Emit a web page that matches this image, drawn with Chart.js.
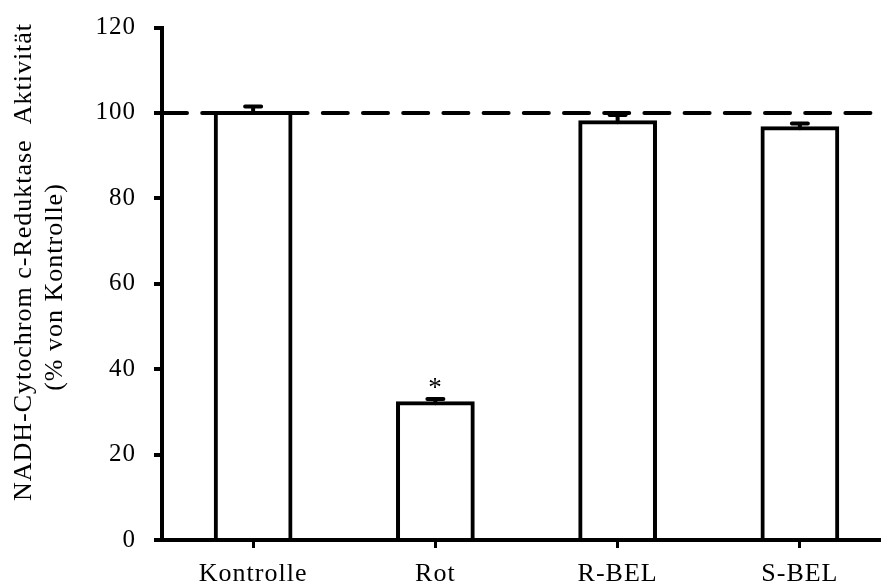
<!DOCTYPE html>
<html>
<head>
<meta charset="utf-8">
<script src="https://cdn.jsdelivr.net/npm/chart.js@4"></script>
<style>
  html, body { margin: 0; padding: 0; background: #fff; overflow: hidden; }
  #wrap { width: 892px; height: 584px; }
</style>
</head>
<body>
<div id="wrap"><canvas id="chart" width="892" height="584"></canvas></div>
<script>
const categories = ['Kontrolle', 'Rot', 'R-BEL', 'S-BEL'];
const activity = [100, 32.0, 97.8, 96.4];
const activityErr = [1.5, 1.0, 1.7, 1.1];
const significance = ['', '*', '', ''];
const yTicks = [0, 20, 40, 60, 80, 100, 120];
const referenceLevel = 100;
const yTitle = ['NADH-Cytochrom c-Reduktase  Aktivität', '(% von Kontrolle)'];

const SERIF = '"Liberation Serif", "Times New Roman", serif';

// slightly wider text spacing for every label
const spacing = {
  id: 'spacing',
  beforeDraw(chart) { chart.ctx.letterSpacing = '1px'; }
};

// error bars + significance marks on top of each bar
const errorBars = {
  id: 'errorBars',
  afterDatasetsDraw(chart) {
    const ctx = chart.ctx;
    const y = chart.scales.y;
    const bars = chart.getDatasetMeta(0).data;
    ctx.save();
    ctx.strokeStyle = '#000';
    ctx.lineWidth = 4;
    ctx.lineCap = 'round';
    bars.forEach((bar, i) => {
      const top = y.getPixelForValue(activity[i] + activityErr[i]);
      ctx.beginPath();
      ctx.moveTo(bar.x, bar.y);
      ctx.lineTo(bar.x, top);
      ctx.moveTo(bar.x - 8, top);
      ctx.lineTo(bar.x + 8, top);
      ctx.stroke();
      if (significance[i]) {
        ctx.fillStyle = '#000';
        ctx.font = '27px ' + SERIF;
        ctx.textAlign = 'center';
        ctx.textBaseline = 'alphabetic';
        ctx.fillText(significance[i], bar.x, top - 3);
      }
    });
    ctx.restore();
  }
};

// dashed line at the control level
const referenceLine = {
  id: 'referenceLine',
  afterDatasetsDraw(chart) {
    const ctx = chart.ctx;
    const area = chart.chartArea;
    const yPx = chart.scales.y.getPixelForValue(referenceLevel);
    ctx.save();
    ctx.strokeStyle = '#000';
    ctx.lineWidth = 4;
    ctx.lineCap = 'round';
    ctx.setLineDash([25, 15.2]);
    ctx.beginPath();
    ctx.moveTo(area.left, yPx);
    ctx.lineTo(chart.width, yPx);
    ctx.stroke();
    ctx.restore();
  }
};

// two-line rotated y axis title
const axisTitle = {
  id: 'axisTitle',
  afterDraw(chart) {
    const ctx = chart.ctx;
    ctx.save();
    ctx.fillStyle = '#000';
    ctx.font = '26px ' + SERIF;
    ctx.textAlign = 'center';
    ctx.textBaseline = 'alphabetic';
    [[31, 262], [62, 287]].forEach(([x, yc], i) => {
      ctx.save();
      ctx.translate(x, yc);
      ctx.rotate(-Math.PI / 2);
      ctx.fillText(yTitle[i], 0, 0);
      ctx.restore();
    });
    ctx.restore();
  }
};

new Chart(document.getElementById('chart'), {
  type: 'bar',
  data: {
    labels: categories,
    datasets: [{
      data: activity,
      backgroundColor: '#fff',
      borderColor: '#000',
      borderWidth: 4,
      borderSkipped: 'bottom',
      inflateAmount: 2,
      barPercentage: 0.41,
      categoryPercentage: 1
    }]
  },
  options: {
    responsive: false,
    devicePixelRatio: 1,
    animation: false,
    layout: { padding: { left: 0, top: 27.5, right: 1, bottom: 0 } },
    plugins: { legend: { display: false }, tooltip: { enabled: false } },
    scales: {
      x: {
        z: 1,
        offset: true,
        grid: { offset: false, drawOnChartArea: false, tickLength: 8, lineWidth: 3, color: '#000' },
        border: { width: 4, color: '#000' },
        ticks: { color: '#000', padding: 11, maxRotation: 0, font: { family: SERIF, size: 26 } },
        afterFit(scale) {
          scale.height = 44;
          scale.paddingLeft = 0;
          scale.paddingRight = 0;
        }
      },
      y: {
        z: 1,
        min: 0,
        max: 120,
        afterBuildTicks(scale) { scale.ticks = yTicks.map(v => ({ value: v })); },
        grid: { drawOnChartArea: false, tickLength: 8, lineWidth: 4, color: '#000' },
        border: { width: 4, color: '#000' },
        ticks: { color: '#000', padding: 18, font: { family: SERIF, size: 25 } },
        afterFit(scale) {
          scale.width = 162;
          scale.paddingTop = 0;
          scale.paddingBottom = 0;
        }
      }
    }
  },
  plugins: [spacing, errorBars, referenceLine, axisTitle]
});
</script>
</body>
</html>
